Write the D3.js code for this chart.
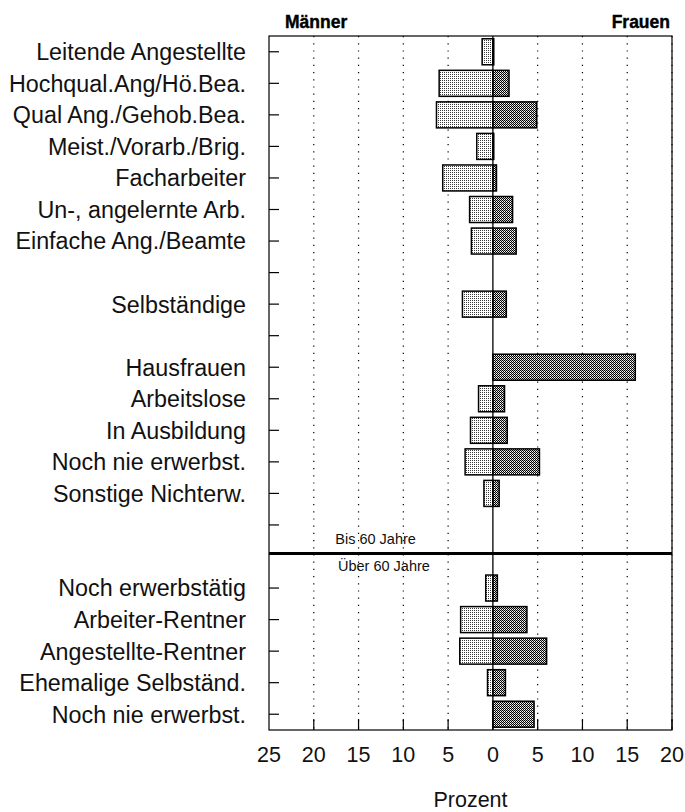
<!DOCTYPE html>
<html>
<head>
<meta charset="utf-8">
<script src="https://cdn.jsdelivr.net/npm/d3@7"></script>
<style>
  body { margin: 0; background: #fff; }
  svg { display: block; font-family: "Liberation Sans", Arial, Helvetica, sans-serif; }
</style>
</head>
<body>
<div id="chart"></div>
<script>

// Chart size and plot frame
const width = 685;
const height = 812;
const margin = {left: 269, right: 13, top: 36, bottom: 82};

// Row labels (empty strings are blank rows, row 16 is the age divider)
const categories = [
  "Leitende Angestellte", "Hochqual.Ang/Hö.Bea.", "Qual Ang./Gehob.Bea.",
  "Meist./Vorarb./Brig.", "Facharbeiter", "Un-, angelernte Arb.",
  "Einfache Ang./Beamte", "", "Selbständige", "", "Hausfrauen",
  "Arbeitslose", "In Ausbildung", "Noch nie erwerbst.", "Sonstige Nichterw.",
  "", "", "Noch erwerbstätig", "Arbeiter-Rentner", "Angestellte-Rentner",
  "Ehemalige Selbständ.", "Noch nie erwerbst."
];

// Percent values (null = no bar)
const maenner = [1.2, 6.0, 6.3, 1.8, 5.6, 2.6, 2.4, null, 3.4, null, 0,
                 1.6, 2.5, 3.1, 1.0, null, null, 0.8, 3.6, 3.7, 0.6, 0];
const frauen  = [0.1, 1.8, 4.9, 0.1, 0.4, 2.2, 2.6, null, 1.5, null, 15.9,
                 1.3, 1.6, 5.2, 0.7, null, null, 0.5, 3.8, 6.0, 1.4, 4.6];

const dividerRow = 16;
const xTicks = [-25, -20, -15, -10, -5, 0, 5, 10, 15, 20];

const svg = d3.select("#chart")
  .append("svg")
  .attr("width", width)
  .attr("height", height);

// Stipple fills
const defs = svg.append("defs");

const pM = defs.append("pattern")
  .attr("id", "menFill")
  .attr("patternUnits", "userSpaceOnUse")
  .attr("width", 2).attr("height", 2);
pM.append("rect").attr("width", 2).attr("height", 2).attr("fill", "#fff");
pM.append("rect").attr("width", 1).attr("height", 1).attr("fill", "#3a3a3a");

const pW = defs.append("pattern")
  .attr("id", "womenFill")
  .attr("patternUnits", "userSpaceOnUse")
  .attr("width", 2).attr("height", 2);
pW.append("rect").attr("width", 2).attr("height", 2).attr("fill", "#fff");
pW.append("rect").attr("x", 1).attr("width", 1).attr("height", 1).attr("fill", "#bbb");
pW.append("rect").attr("width", 1).attr("height", 1).attr("fill", "#000");
pW.append("rect").attr("x", 1).attr("y", 1).attr("width", 1).attr("height", 1).attr("fill", "#000");

// Scales
const x = d3.scaleLinear()
  .domain([-25, 20])
  .range([margin.left, width - margin.right]);

const y = d3.scalePoint()
  .domain(d3.range(categories.length))
  .range([margin.top, height - margin.bottom])
  .padding(0.5);

const barH = 26;
const x0 = x(0);

// Dotted grid lines
svg.append("g")
  .selectAll("line")
  .data(xTicks.filter(d => d !== 0 && d !== -25))
  .join("line")
    .attr("x1", d => x(d)).attr("x2", d => x(d))
    .attr("y1", margin.top).attr("y2", height - margin.bottom)
    .attr("stroke", "#000")
    .attr("stroke-width", 1.2)
    .attr("stroke-dasharray", "1.2,6");

// Bars: men to the left, women to the right
const rows = categories.map((c, i) => ({i: i, m: maenner[i], w: frauen[i]}));

svg.append("g")
  .selectAll("rect")
  .data(rows.filter(d => d.m))
  .join("rect")
    .attr("x", d => x(-d.m))
    .attr("y", d => y(d.i) - barH / 2)
    .attr("width", d => x0 - x(-d.m))
    .attr("height", barH)
    .attr("fill", "url(#menFill)")
    .attr("stroke", "#000")
    .attr("stroke-width", 1.5);

svg.append("g")
  .selectAll("rect")
  .data(rows.filter(d => d.w))
  .join("rect")
    .attr("x", x0)
    .attr("y", d => y(d.i) - barH / 2)
    .attr("width", d => x(d.w) - x0)
    .attr("height", barH)
    .attr("fill", "url(#womenFill)")
    .attr("stroke", "#000")
    .attr("stroke-width", 1.5);

// Zero line
svg.append("line")
  .attr("x1", x0).attr("x2", x0)
  .attr("y1", margin.top).attr("y2", height - margin.bottom)
  .attr("stroke", "#000")
  .attr("stroke-width", 1.3);

// Frame
svg.append("rect")
  .attr("x", margin.left)
  .attr("y", margin.top)
  .attr("width", width - margin.left - margin.right)
  .attr("height", height - margin.top - margin.bottom)
  .attr("fill", "none")
  .attr("stroke", "#000")
  .attr("stroke-width", 1.2);

// Left ticks and category labels
const labelled = d3.range(categories.length).filter(i => i !== dividerRow);

svg.append("g")
  .selectAll("line")
  .data(labelled)
  .join("line")
    .attr("x1", margin.left).attr("x2", margin.left + 10)
    .attr("y1", d => y(d)).attr("y2", d => y(d))
    .attr("stroke", "#000")
    .attr("stroke-width", 1.2);

svg.append("g")
  .selectAll("text")
  .data(labelled.filter(i => categories[i] !== ""))
  .join("text")
    .attr("x", 246)
    .attr("y", d => y(d))
    .attr("dy", "0.36em")
    .attr("text-anchor", "end")
    .attr("font-size", "23.3px")
    .attr("fill", "#111")
    .text(d => categories[d]);

// Bottom ticks (pointing up) and labels
const yb = height - margin.bottom;
svg.append("g")
  .selectAll("line")
  .data(xTicks.filter(d => d !== -25))
  .join("line")
    .attr("x1", d => x(d)).attr("x2", d => x(d))
    .attr("y1", yb).attr("y2", yb - 11)
    .attr("stroke", "#000")
    .attr("stroke-width", 1.2);

svg.append("g")
  .selectAll("text")
  .data(xTicks)
  .join("text")
    .attr("x", d => x(d))
    .attr("y", 762)
    .attr("text-anchor", "middle")
    .attr("font-size", "21.5px")
    .attr("fill", "#111")
    .text(d => Math.abs(d));

svg.append("text")
  .attr("x", x(-2.5))
  .attr("y", 807)
  .attr("text-anchor", "middle")
  .attr("font-size", "21.5px")
  .attr("fill", "#111")
  .text("Prozent");

// Age divider
const yd = y(dividerRow) - 3;
svg.append("line")
  .attr("x1", margin.left).attr("x2", width - margin.right)
  .attr("y1", yd).attr("y2", yd)
  .attr("stroke", "#000")
  .attr("stroke-width", 3);

svg.append("text")
  .attr("x", x(-17.6))
  .attr("y", yd - 10)
  .attr("font-size", "14.5px")
  .attr("fill", "#111")
  .text("Bis 60 Jahre");

svg.append("text")
  .attr("x", x(-17.3))
  .attr("y", yd + 17)
  .attr("font-size", "14.5px")
  .attr("fill", "#111")
  .text("Über 60 Jahre");

// Headers
svg.append("text")
  .attr("x", 285)
  .attr("y", 28)
  .attr("font-size", "17.5px")
  .attr("font-weight", "bold")
  .attr("fill", "#000")
  .attr("stroke", "#000")
  .attr("stroke-width", 0.4)
  .text("Männer");

svg.append("text")
  .attr("x", 670)
  .attr("y", 28)
  .attr("text-anchor", "end")
  .attr("font-size", "17.5px")
  .attr("font-weight", "bold")
  .attr("fill", "#000")
  .attr("stroke", "#000")
  .attr("stroke-width", 0.4)
  .text("Frauen");

</script>
</body>
</html>
